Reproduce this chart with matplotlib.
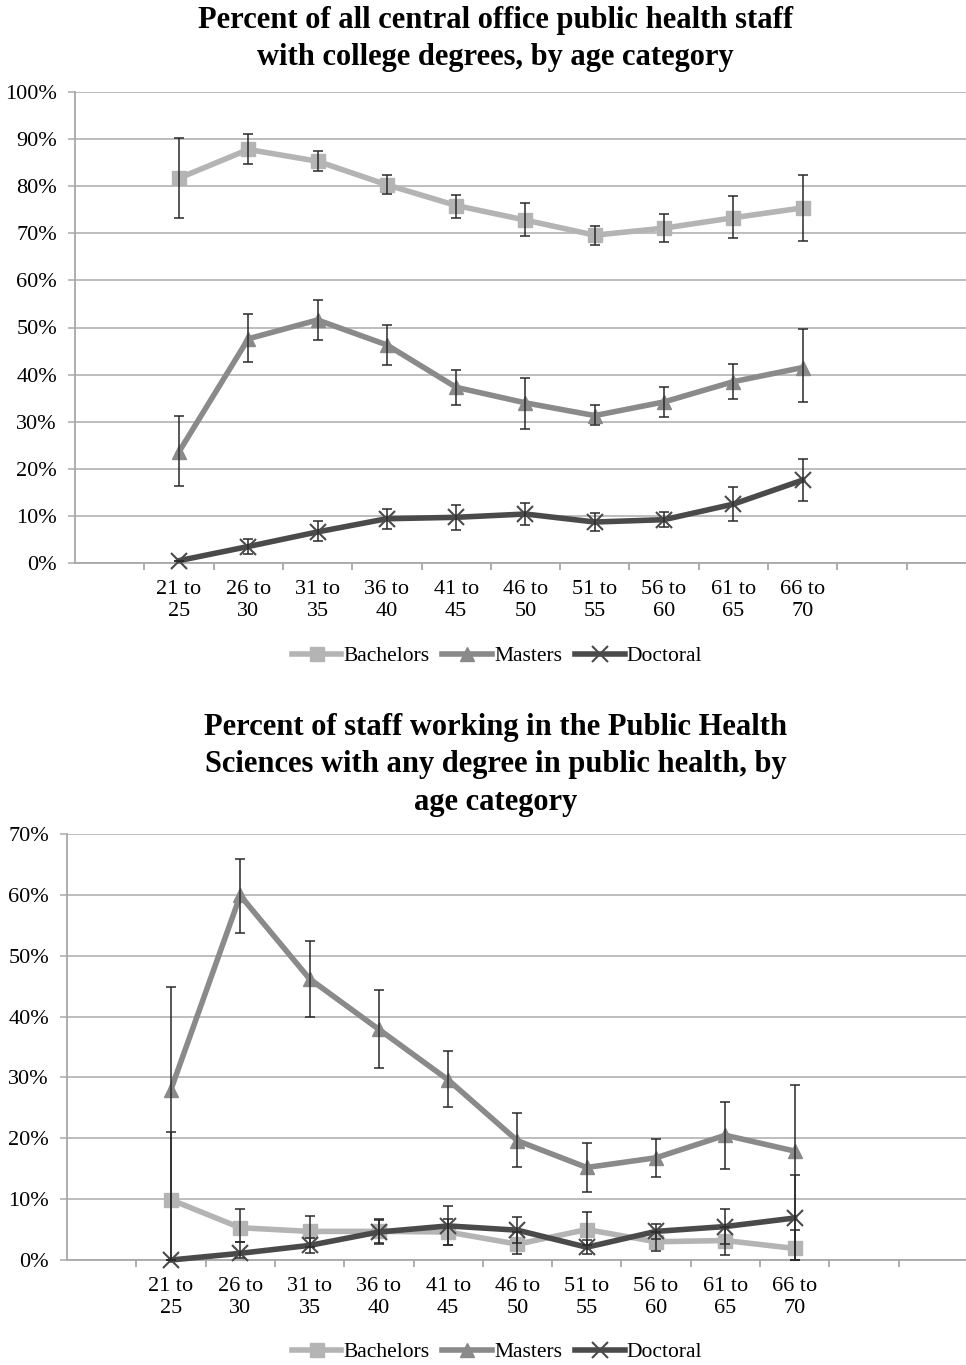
import numpy as np
import matplotlib
matplotlib.use('Agg')
import matplotlib.pyplot as plt
from matplotlib.ticker import FuncFormatter, FixedLocator

plt.rcParams['font.family'] = ['Liberation Serif', 'DejaVu Serif']

# categorias (la primera y las dos ultimas sin etiqueta)
categorias = ['', '21 to\n25', '26 to\n30', '31 to\n35', '36 to\n40', '41 to\n45',
              '46 to\n50', '51 to\n55', '56 to\n60', '61 to\n65', '66 to\n70', '', '']

# Grafico 1: titulos universitarios (%)
bach1 = [None, 81.7, 87.8, 85.3, 80.3, 75.9, 72.8, 69.6, 71.1, 73.3, 75.4, None, None]
bach1_hi = [None, 90.3, 91.0, 87.5, 82.4, 78.1, 76.4, 71.6, 74.0, 77.9, 82.4, None, None]
bach1_lo = [None, 73.3, 84.7, 83.2, 78.3, 73.2, 69.4, 67.5, 68.1, 68.9, 68.4, None, None]

mast1 = [None, 23.6, 47.6, 51.6, 46.3, 37.3, 34.0, 31.3, 34.2, 38.5, 41.5, None, None]
mast1_hi = [None, 31.2, 52.8, 55.8, 50.5, 41.0, 39.3, 33.5, 37.4, 42.3, 49.6, None, None]
mast1_lo = [None, 16.3, 42.6, 47.3, 42.0, 33.5, 28.5, 29.3, 31.1, 34.8, 34.1, None, None]

doct1 = [None, 0.5, 3.5, 6.6, 9.4, 9.7, 10.4, 8.7, 9.2, 12.5, 17.6, None, None]
doct1_hi = [None, 0.5, 5.0, 9.0, 11.5, 12.3, 12.7, 10.6, 10.8, 16.1, 22.1, None, None]
doct1_lo = [None, 0.5, 1.9, 4.6, 7.3, 7.1, 8.0, 6.9, 7.7, 9.0, 13.1, None, None]

# Grafico 2: titulo en salud publica (%)
bach2 = [None, 9.9, 5.3, 4.7, 4.7, 4.6, 2.6, 5.0, 3.0, 3.2, 1.9, None, None]
bach2_hi = [None, 21.0, 8.3, 7.3, 6.7, 6.8, 4.6, 7.9, 4.6, 5.4, 4.9, None, None]
bach2_lo = [None, 0.0, 2.9, 2.2, 2.8, 2.4, 1.0, 2.4, 1.5, 0.8, 0.0, None, None]

mast2 = [None, 28.0, 59.9, 46.2, 37.9, 29.6, 19.6, 15.2, 16.8, 20.5, 17.9, None, None]
mast2_hi = [None, 44.8, 65.9, 52.4, 44.3, 34.4, 24.1, 19.2, 19.9, 25.9, 28.8, None, None]
mast2_lo = [None, 0.0, 53.8, 39.9, 31.6, 25.2, 15.3, 11.2, 13.7, 15.0, 0.0, None, None]

doct2 = [None, 0.0, 1.1, 2.4, 4.6, 5.6, 4.9, 2.1, 4.7, 5.5, 6.9, None, None]
doct2_hi = [None, 0.0, 3.0, 3.6, 6.6, 8.8, 7.1, 3.3, 5.9, 8.3, 14.0, None, None]
doct2_lo = [None, 0.0, 0.4, 1.2, 2.7, 2.5, 2.8, 1.0, 3.5, 2.7, 0.0, None, None]

series = ['Bachelors', 'Masters', 'Doctoral']
colores = ['#b4b4b4', '#8a8a8a', '#4a4a4a']
marcadores = ['s', '^', 'x']

W, H = 966, 1365
fig = plt.figure(figsize=(W / 100, H / 100), dpi=100)


def f(v):
    return np.array([np.nan if x is None else x for x in v], dtype=float)


def grafico(rect_px, ymax, datos, titulo, titulo_y, legend_y):
    left, top, right, bottom = rect_px
    ax = fig.add_axes([left / W, 1 - bottom / H, (right - left) / W, (bottom - top) / H])
    x = np.arange(len(categorias))
    for (v, hi, lo), nombre, c, m in zip(datos, series, colores, marcadores):
        v, hi, lo = f(v), f(hi), f(lo)
        if m == 'x':
            ax.plot(x, v, color=c, lw=4, marker=m, ms=12, mew=1.5, label=nombre, zorder=3,
                    clip_on=False)
        else:
            ax.plot(x, v, color=c, lw=4, marker=m, ms=10.5, label=nombre, zorder=3, clip_on=False)
        ax.errorbar(x, v, yerr=[v - lo, hi - v], fmt='none', ecolor='#2a2a2a', elinewidth=1.1,
                    capsize=3.5, capthick=1.1, zorder=4)
    ax.set_xlim(-0.5, (right - left) / 69.3 - 0.5)
    ax.set_ylim(0, ymax)
    ax.set_yticks(np.arange(0, ymax + 1, 10))
    ax.yaxis.set_major_formatter(FuncFormatter(lambda y, p: f'{y:.0f}%'))
    ax.set_xticks(x)
    ax.set_xticklabels(categorias, fontsize=16, linespacing=1.25)
    ax.xaxis.set_minor_locator(FixedLocator(x + 0.5))
    ax.tick_params(axis='x', which='major', length=0, pad=12)
    ax.tick_params(axis='x', which='minor', length=5, color='#a0a0a0', width=1.2)
    ax.tick_params(axis='y', length=5, color='#b0b0b0', width=1.2, labelsize=16, pad=8)
    ax.grid(axis='y', color='#b8b8b8', lw=1.3)
    ax.set_axisbelow(True)
    for s in ['top', 'right']:
        ax.spines[s].set_visible(False)
    for s in ['left', 'bottom']:
        ax.spines[s].set_color('#a8a8a8')
        ax.spines[s].set_linewidth(1.3)
    fig.text(0.513, 1 - titulo_y / H, titulo, ha='center', va='top', fontsize=22,
             fontweight='bold', linespacing=1.38)
    ax.legend(loc='center', bbox_to_anchor=(497 / W, 1 - legend_y / H), bbox_transform=fig.transFigure,
              ncol=3, frameon=False, fontsize=15.5, handlelength=2.3, handletextpad=0.1,
              columnspacing=0.6)
    return ax


grafico((75, 92, 966, 563), 100,
        [(bach1, bach1_hi, bach1_lo), (mast1, mast1_hi, mast1_lo), (doct1, doct1_hi, doct1_lo)],
        'Percent of all central office public health staff\nwith college degrees, by age category',
        6, 656)

grafico((67, 834, 966, 1260), 70,
        [(bach2, bach2_hi, bach2_lo), (mast2, mast2_hi, mast2_lo), (doct2, doct2_hi, doct2_lo)],
        'Percent of staff working in the Public Health\nSciences with any degree in public health, by\nage category',
        713, 1352)

fig.savefig('out.png', dpi=100)
